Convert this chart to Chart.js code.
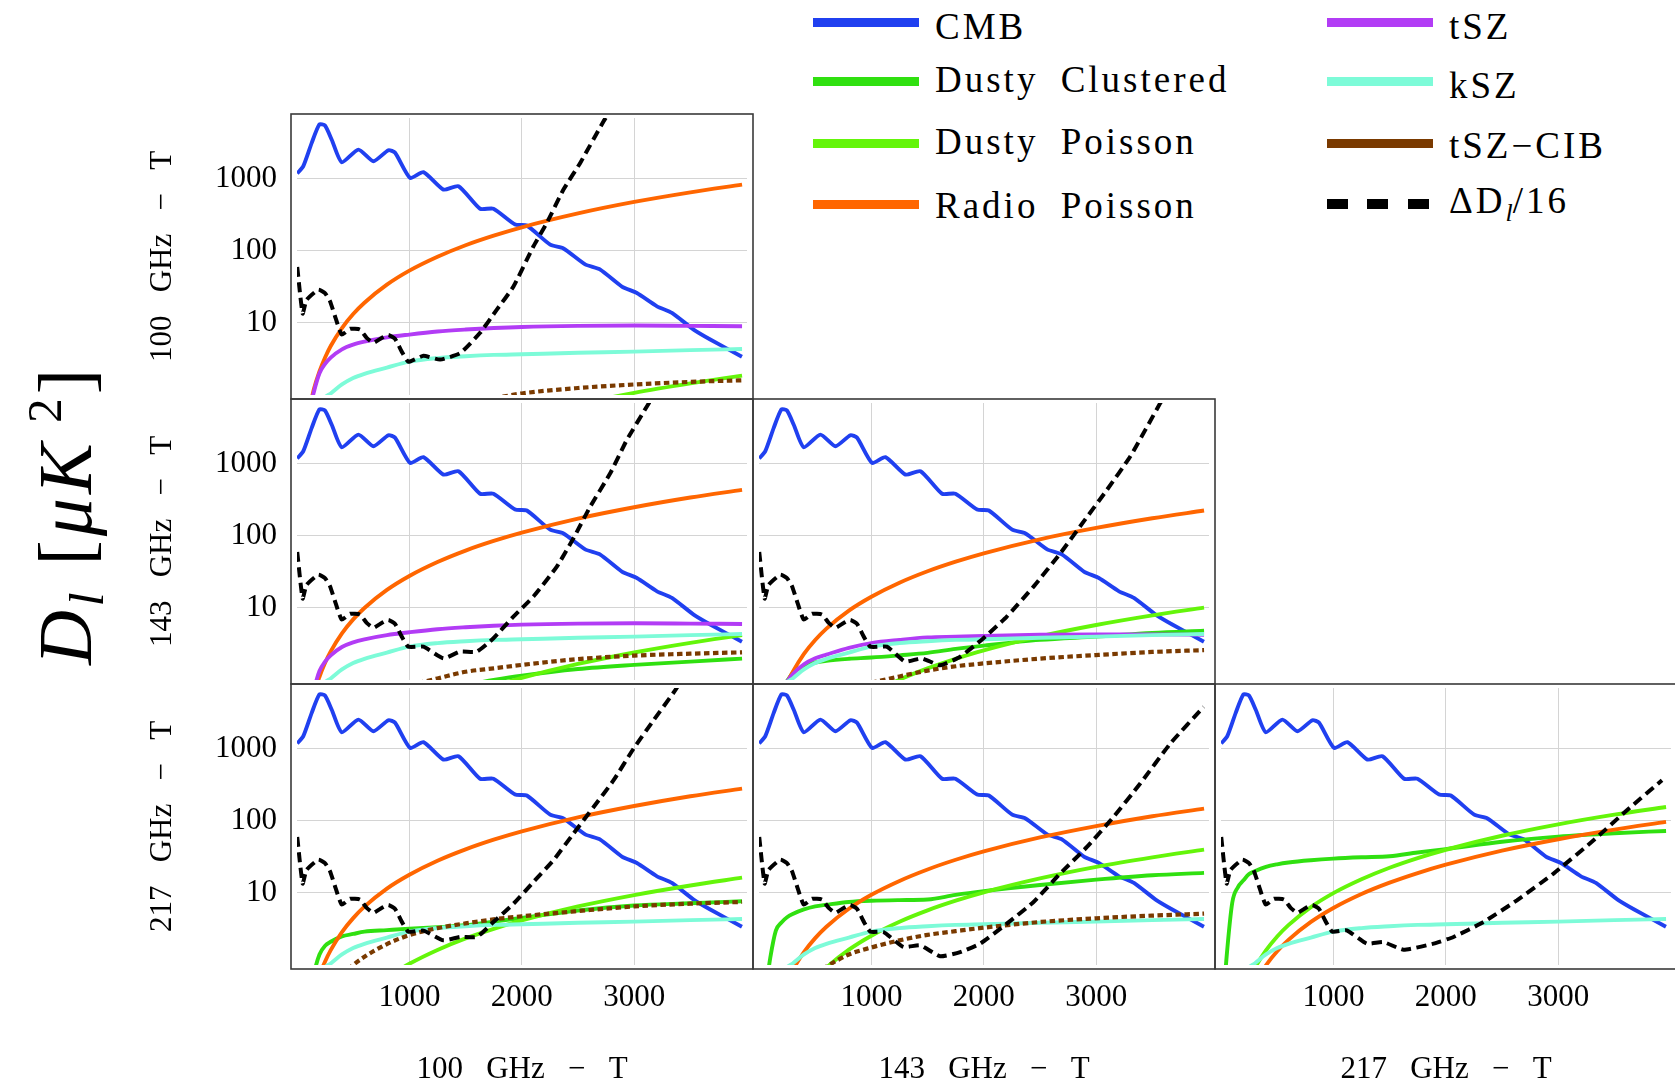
<!DOCTYPE html>
<html lang="fr">
<head>
<meta charset="utf-8">
<title>Spectres des avant-plans</title>
<script src="https://cdn.jsdelivr.net/npm/chart.js@4.4.1/dist/chart.umd.min.js"></script>
<style>
  html, body { margin: 0; padding: 0; background: #fff; }
  body { width: 1675px; height: 1087px; position: relative; overflow: hidden;
         font-family: "Liberation Serif", serif; color: #000; }
  canvas.panel { position: absolute; }
  .leg-line { position: absolute; width: 106px; height: 9px; }
  .leg-text { position: absolute; font-size: 37px; line-height: 37px; letter-spacing: 3px;
              word-spacing: 10px; white-space: pre; }
  .leg-text sub { font-size: 0.7em; vertical-align: -0.3em; letter-spacing: 0; }
  #ylabel { position: absolute; left: 66px; top: 515px; white-space: nowrap;
            font-size: 76px; line-height: 76px; letter-spacing: 4px;
            transform: translate(-50%, -50%) rotate(-90deg); }
  #ylabel sub { font-size: 0.65em; vertical-align: -0.25em; }
  #ylabel sup { font-size: 0.65em; vertical-align: 0.6em; }
</style>
</head>
<body>

<div id="ylabel"><i>D</i><sub><i>l</i></sub> [<i>μK</i><sup> 2</sup>]</div>
<div id="legende"></div>

<script>
// Multipôles communs pour les avant-plans lisses
const ellFg = [30, 50, 100, 150, 200, 250, 300, 400, 500, 600, 800, 1000, 1250, 1500, 1750, 2000, 2500, 3000, 3500, 3960];

// CMB (identique dans tous les panneaux)
const ellCmb = [2, 56, 131, 199, 249, 309, 398, 546, 680, 813, 873, 1006, 1125, 1303, 1437, 1629, 1748, 1941, 2045, 2253, 2371, 2564, 2698, 2891, 3024, 3203, 3336, 3529, 3677, 3959];
const cmb = [1190, 1500, 3160, 5700, 5500, 3500, 1700, 2550, 1760, 2500, 2300, 1030, 1240, 710, 790, 385, 385, 232, 225, 122, 108, 65, 55, 32, 26, 17, 13.8, 8.1, 5.9, 3.4];

// Radio Poisson
const radio100x100 = [null, null, 0.53, 1.2, 2.13, 3.32, 4.79, 8.5, 13.3, 19.1, 34, 53.2, 83, 120, 163, 213, 332, 479, 651, 834];
const radio143x100 = [null, null, 0.28, 0.63, 1.11, 1.74, 2.5, 4.45, 6.95, 10, 17.8, 27.8, 43.4, 62.6, 85.1, 111, 174, 250, 341, 436];
const radio143x143 = [null, null, 0.14, 0.32, 0.57, 0.9, 1.29, 2.3, 3.59, 5.17, 9.18, 14.3, 22.4, 32.3, 43.9, 57.4, 89.7, 129, 176, 225];
const radio217x100 = [null, null, 0.18, 0.4, 0.72, 1.12, 1.61, 2.87, 4.48, 6.45, 11.5, 17.9, 28, 40.3, 54.9, 71.7, 112, 161, 220, 281];
const radio217x143 = [null, null, 0.094, 0.21, 0.38, 0.59, 0.85, 1.51, 2.36, 3.4, 6.04, 9.44, 14.7, 21.2, 28.9, 37.8, 59, 84.9, 116, 148];
const radio217x217 = [null, null, 0.062, 0.14, 0.25, 0.39, 0.56, 0.99, 1.55, 2.23, 3.96, 6.19, 9.67, 13.9, 18.9, 24.7, 38.7, 55.7, 75.8, 97];

// Dusty Poisson
const dp100x100 = [null, null, null, null, null, null, null, null, null, null, null, null, null, 0.27, 0.36, 0.47, 0.74, 1.07, 1.45, 1.86];
const dp143x100 = [null, null, null, null, null, null, null, null, null, null, null, 0.27, 0.42, 0.6, 0.82, 1.07, 1.67, 2.41, 3.28, 4.2];
const dp143x143 = [null, null, null, null, null, null, null, null, null, 0.23, 0.41, 0.64, 1.01, 1.45, 1.97, 2.58, 4.03, 5.8, 7.89, 10.1];
const dp217x100 = [null, null, null, null, null, null, null, null, 0.26, 0.37, 0.67, 1.04, 1.62, 2.34, 3.18, 4.16, 6.5, 9.35, 12.7, 16.3];
const dp217x143 = [null, null, null, null, null, null, 0.23, 0.41, 0.64, 0.92, 1.63, 2.55, 3.99, 5.74, 7.81, 10.2, 15.9, 23, 31.2, 40];
const dp217x217 = [null, null, null, 0.22, 0.4, 0.62, 0.9, 1.59, 2.49, 3.58, 6.37, 9.95, 15.5, 22.4, 30.5, 39.8, 62.2, 89.5, 122, 156];

// Dusty Clustered
const dc143x100 = [null, null, null, null, null, null, null, null, null, null, null, null, null, 0.85, 1.0, 1.15, 1.42, 1.62, 1.8, 1.98];
const dc143x143 = [null, null, null, 0.5, 0.75, 0.97, 1.25, 1.55, 1.75, 1.85, 1.97, 2.05, 2.2, 2.38, 2.7, 3.0, 3.6, 4.0, 4.5, 4.84];
const dc217x100 = [null, null, 0.3, 0.75, 1.4, 1.85, 2.1, 2.5, 2.7, 2.9, 3.05, 3.2, 3.35, 3.56, 4.0, 4.5, 5.7, 6.7, 7.2, 7.66];
const dc217x143 = [null, 0.35, 1.25, 3.0, 3.9, 4.6, 5.1, 5.9, 6.5, 6.85, 7.5, 7.8, 7.95, 8.1, 9.4, 10.6, 12.9, 15.3, 17.6, 19];
const dc217x217 = [0.5, 1.3, 7.3, 12, 15, 18.3, 20, 23, 25, 26.5, 28.5, 30, 31.3, 32.3, 36.5, 40.6, 51.3, 60.5, 67.5, 72.6];

// tSZ
const tsz100x100 = [null, 0.15, 0.5, 1.1, 2.0, 2.7, 3.3, 4.3, 5.0, 5.5, 6.3, 6.9, 7.6, 8.1, 8.5, 8.8, 9.1, 9.2, 9.1, 9.0];
const tsz143x100 = [null, 0.1, 0.33, 0.73, 1.33, 1.8, 2.2, 2.87, 3.33, 3.67, 4.2, 4.6, 5.07, 5.4, 5.67, 5.87, 6.07, 6.13, 6.07, 6.0];
const tsz143x143 = [null, 0.07, 0.2, 0.4, 0.7, 0.95, 1.2, 1.65, 2.0, 2.25, 2.8, 3.25, 3.6, 3.9, 4.0, 4.1, 4.25, 4.3, 4.3, 4.25];

// kSZ (même forme partout)
const ksz = [null, null, null, null, 0.7, 0.93, 1.05, 1.4, 1.72, 1.97, 2.4, 2.9, 3.25, 3.45, 3.6, 3.68, 3.85, 4.0, 4.2, 4.35];

// tSZ-CIB
const cib100x100 = [null, null, null, null, null, null, null, null, null, null, null, null, null, null, 0.9, 1.05, 1.25, 1.4, 1.52, 1.6];
const cib143x100 = [null, null, null, null, null, null, null, null, null, null, null, 0.85, 1.05, 1.3, 1.45, 1.62, 1.95, 2.18, 2.32, 2.42];
const cib143x143 = [null, null, null, null, null, null, null, null, null, null, null, 0.92, 1.12, 1.35, 1.55, 1.7, 1.98, 2.22, 2.45, 2.6];
const cib217x100 = [null, null, null, null, null, null, null, 0.7, 1.0, 1.3, 1.95, 2.6, 3.25, 3.78, 4.3, 4.75, 5.6, 6.5, 7.1, 7.5];
const cib217x143 = [null, null, null, null, null, null, null, null, 0.75, 0.95, 1.4, 1.75, 2.2, 2.62, 2.95, 3.3, 3.95, 4.45, 4.85, 5.16];

// ΔD_l/16 : partie bas-l commune + queue propre à chaque panneau
const ellBruitBas = [2, 50, 86, 190, 249, 294, 338, 398, 472, 561, 620, 680, 739, 813, 873, 932, 991];
const bruitBas = [60, 13.5, 21, 29, 26, 20, 12.4, 6.9, 8.3, 8.1, 6.2, 5.3, 6.0, 6.8, 6.0, 4.0, 2.9];

const ellQueue100x100 = [1125, 1273, 1451, 1629, 1778, 1926, 2104, 2223, 2371, 2520, 2728, 2800];
const queue100x100 = [3.5, 3.1, 3.8, 7.3, 15.3, 32, 116, 245, 711, 1667, 6310, 9500];
const ellQueue143x100 = [1125, 1303, 1451, 1600, 1748, 1926, 2104, 2312, 2460, 2609, 2787, 2935, 3113, 3180];
const queue143x100 = [2.9, 2.0, 2.48, 2.48, 3.8, 7.6, 14.4, 37.5, 93, 255, 741, 2155, 6260, 9300];
const ellQueue143x143 = [1137, 1300, 1448, 1612, 1790, 1997, 2205, 2443, 2680, 2888, 3096, 3303, 3570, 3620];
const queue143x143 = [2.9, 1.8, 2.0, 1.6, 2.1, 3.8, 7.6, 19.8, 57, 158, 436, 1265, 6970, 9400];
const ellQueue217x100 = [1125, 1303, 1451, 1600, 1748, 1926, 2104, 2282, 2460, 2639, 2817, 2995, 3173, 3366, 3420];
const queue217x100 = [3.0, 2.2, 2.45, 2.45, 3.95, 7.1, 14.2, 28.5, 66.7, 156, 367, 1010, 2500, 6530, 9000];
const ellQueue217x143 = [1107, 1285, 1434, 1612, 1790, 1968, 2205, 2443, 2680, 2918, 3155, 3392, 3660, 3956];
const queue217x143 = [2.87, 1.78, 1.88, 1.32, 1.51, 1.98, 3.75, 7.5, 18.6, 43.5, 114, 330, 1186, 3830];
const ellQueue217x217 = [1119, 1297, 1445, 1624, 1891, 2069, 2336, 2633, 2959, 3315, 3612, 3924];
const queue217x217 = [3.03, 1.98, 2.08, 1.63, 1.98, 2.45, 3.95, 7.9, 18.6, 53.8, 141, 367];

// Graduations et libellés
const ticksX = [1000, 2000, 3000];
const ticksY = [10, 100, 1000];
const frequences = ['100', '143', '217'];

// Couleurs des composantes
const couleurs = {
    cmb: '#2040f0', dc: '#30e010', dp: '#64f50a', radio: '#ff6600',
    tsz: '#b23cf5', ksz: '#7dfbd8', cib: '#7a3a00', bruit: '#000000'
};

// Légende (deux colonnes)
const legende = [
    { texte: 'CMB', couleur: couleurs.cmb, x: 813, cy: 22.8, base: 39.3 },
    { texte: 'Dusty Clustered', couleur: couleurs.dc, x: 813, cy: 81, base: 92 },
    { texte: 'Dusty Poisson', couleur: couleurs.dp, x: 813, cy: 143.3, base: 154 },
    { texte: 'Radio Poisson', couleur: couleurs.radio, x: 813, cy: 204, base: 218 },
    { texte: 'tSZ', couleur: couleurs.tsz, x: 1327, cy: 22.8, base: 39.3 },
    { texte: 'kSZ', couleur: couleurs.ksz, x: 1327, cy: 81, base: 98.3 },
    { texte: 'tSZ−CIB', couleur: couleurs.cib, x: 1327, cy: 143.3, base: 158.3 },
    { texte: 'ΔD<sub><i>l</i></sub>/16', couleur: null, x: 1327, cy: 204.3, base: 213.3 }
];

function dessinerLegende() {
    const conteneur = document.getElementById('legende');
    legende.forEach(item => {
        const trait = document.createElement('div');
        trait.className = 'leg-line';
        trait.style.left = item.x + 'px';
        trait.style.top = (item.cy - 4.5) + 'px';
        if (item.couleur) {
            trait.style.background = item.couleur;
        } else {
            trait.style.width = '102px';
            trait.style.height = '10px';
            trait.style.top = (item.cy - 5) + 'px';
            trait.style.background = 'repeating-linear-gradient(to right, #000 0 21px, transparent 21px 40.5px)';
        }
        conteneur.appendChild(trait);

        const txt = document.createElement('div');
        txt.className = 'leg-text';
        txt.style.left = (item.x + 122) + 'px';
        txt.style.top = (item.base - 31) + 'px';
        txt.innerHTML = item.texte;
        conteneur.appendChild(txt);
    });
}

// Transforme deux listes en points {x, y}
function points(ell, vals) {
    return ell.map((l, i) => ({ x: l, y: vals[i] })).filter(p => p.y !== null);
}

function serie(label, data, couleur, ordre, extra) {
    return Object.assign({
        label: label,
        data: data,
        borderColor: couleur,
        borderWidth: 3.9,
        pointRadius: 0,
        fill: false,
        order: ordre,
        cubicInterpolationMode: 'monotone'
    }, extra || {});
}

// Cadre autour de chaque panneau (avec la marge type Mathematica)
const cadre = {
    id: 'cadre',
    afterDraw(chart) {
        const a = chart.chartArea;
        const ctx = chart.ctx;
        ctx.save();
        ctx.strokeStyle = '#3a3a3a';
        ctx.lineWidth = 1.6;
        ctx.strokeRect(a.left - 6, a.top - 4, a.right - a.left + 12, a.bottom - a.top + 8);
        ctx.restore();
    }
};

const panneaux = [
    { row: 0, col: 0, radio: radio100x100, dp: dp100x100, dc: null, tsz: tsz100x100, cib: cib100x100, ellQ: ellQueue100x100, q: queue100x100 },
    { row: 1, col: 0, radio: radio143x100, dp: dp143x100, dc: dc143x100, tsz: tsz143x100, cib: cib143x100, ellQ: ellQueue143x100, q: queue143x100 },
    { row: 1, col: 1, radio: radio143x143, dp: dp143x143, dc: dc143x143, tsz: tsz143x143, cib: cib143x143, ellQ: ellQueue143x143, q: queue143x143 },
    { row: 2, col: 0, radio: radio217x100, dp: dp217x100, dc: dc217x100, tsz: null, cib: cib217x100, ellQ: ellQueue217x100, q: queue217x100 },
    { row: 2, col: 1, radio: radio217x143, dp: dp217x143, dc: dc217x143, tsz: null, cib: cib217x143, ellQ: ellQueue217x143, q: queue217x143 },
    { row: 2, col: 2, radio: radio217x217, dp: dp217x217, dc: dc217x217, tsz: null, cib: null, ellQ: ellQueue217x217, q: queue217x217 }
];

const innerLeft = [297, 759, 1221];
const innerTop = [118, 403, 688];
const innerW = 450, innerH = 277;

function creerPanneau(p) {
    const padL = p.col === 0 ? 176 : 8;
    const padB = p.row === 2 ? 1087 - (innerTop[2] + innerH) : 8;
    const padT = 8, padR = 8;

    const canvas = document.createElement('canvas');
    canvas.className = 'panel';
    canvas.width = padL + innerW + padR;
    canvas.height = padT + innerH + padB;
    canvas.style.left = (innerLeft[p.col] - padL) + 'px';
    canvas.style.top = (innerTop[p.row] - padT) + 'px';
    document.body.appendChild(canvas);

    const datasets = [];
    datasets.push(serie('CMB', points(ellCmb, cmb), couleurs.cmb, 8, { cubicInterpolationMode: 'default', tension: 0.2 }));
    if (p.dc) datasets.push(serie('Dusty Clustered', points(ellFg, p.dc), couleurs.dc, 7));
    if (p.dp) datasets.push(serie('Dusty Poisson', points(ellFg, p.dp), couleurs.dp, 6));
    datasets.push(serie('Radio Poisson', points(ellFg, p.radio), couleurs.radio, 5));
    if (p.tsz) datasets.push(serie('tSZ', points(ellFg, p.tsz), couleurs.tsz, 4));
    datasets.push(serie('kSZ', points(ellFg, ksz), couleurs.ksz, 3));
    if (p.cib) datasets.push(serie('tSZ-CIB', points(ellFg, p.cib), couleurs.cib, 2, { borderDash: [5.5, 3.5], borderWidth: 4.2 }));
    const bruit = points(ellBruitBas.concat(p.ellQ), bruitBas.concat(p.q));
    datasets.push(serie('ΔD/16', bruit, couleurs.bruit, 1, { cubicInterpolationMode: 'default', tension: 0.15, borderDash: [10, 5.5], borderWidth: 4 }));

    const freqLigne = frequences[p.row];
    const freqCol = frequences[p.col];

    new Chart(canvas.getContext('2d'), {
        type: 'line',
        data: { datasets: datasets },
        options: {
            responsive: false,
            animation: false,
            events: [],
            layout: { padding: { top: padT, right: padR, left: 0, bottom: 0 } },
            plugins: { legend: { display: false }, tooltip: { enabled: false } },
            scales: {
                x: {
                    type: 'linear',
                    min: 0,
                    max: 4004,
                    afterBuildTicks: s => { s.ticks = ticksX.map(v => ({ value: v })); },
                    afterFit: s => {
                        s.height = padB;
                        s.paddingLeft = 0; s.paddingRight = 0;
                    },
                    grid: { color: '#d4d4d4', lineWidth: 1, drawTicks: false },
                    border: { display: false },
                    ticks: {
                        display: p.row === 2,
                        padding: 17,
                        color: '#000',
                        maxRotation: 0,
                        font: { family: 'Liberation Serif', size: 31, lineHeight: 1 },
                        callback: v => String(v)
                    },
                    title: {
                        display: p.row === 2,
                        text: freqCol + '   GHz   −   T',
                        color: '#000',
                        padding: { top: 0, bottom: 1.5 },
                        font: { family: 'Liberation Serif', size: 31, lineHeight: 1 }
                    }
                },
                y: {
                    type: 'logarithmic',
                    min: 1,
                    max: 7000,
                    afterBuildTicks: s => { s.ticks = ticksY.map(v => ({ value: v })); },
                    afterFit: s => {
                        s.width = padL;
                        s.paddingTop = 0; s.paddingBottom = 0;
                    },
                    grid: { color: '#d4d4d4', lineWidth: 1, drawTicks: false },
                    border: { display: false },
                    ticks: {
                        display: p.col === 0,
                        padding: 20,
                        color: '#000',
                        font: { family: 'Liberation Serif', size: 31, lineHeight: 1 },
                        callback: v => String(v)
                    },
                    title: {
                        display: p.col === 0,
                        text: freqLigne + '   GHz   −   T',
                        color: '#000',
                        padding: { top: 26.5, bottom: 0 },
                        font: { family: 'Liberation Serif', size: 31, lineHeight: 1 }
                    }
                }
            }
        },
        plugins: [cadre]
    });
}

// Lancer le dessin au démarrage
document.addEventListener('DOMContentLoaded', function () {
    dessinerLegende();
    panneaux.forEach(creerPanneau);
});
</script>
</body>
</html>
